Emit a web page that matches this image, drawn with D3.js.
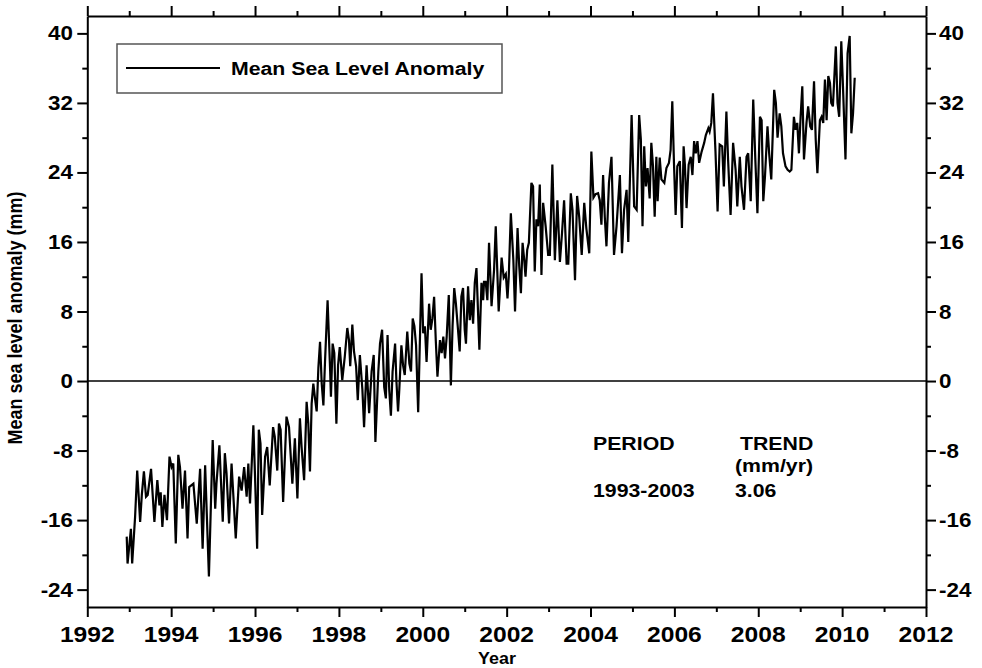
<!DOCTYPE html>
<html>
<head>
<meta charset="utf-8">
<script src="https://cdn.jsdelivr.net/npm/d3@7"></script>
<style>
body { margin: 0; background: #fff; }
text { font-family: "Liberation Sans", Arial, sans-serif; font-weight: bold; fill: #000; }
</style>
</head>
<body>
<script>
var w = 982, h = 668;
var plotLeft = 87.3, plotRight = 926, plotTop = 16, plotBottom = 607;
var stretch = 1.12;	// the picture is a bit wider than its text

// y axis
var yDomain = [-26, 42];
var yTicks = [-24, -16, -8, 0, 8, 16, 24, 32, 40];
var yMinorTicks = [-20, -12, -4, 4, 12, 20, 28, 36];
var yTickLabels = ["-24", "-16", "-8", "0", "8", "16", "24", "32", "40"];

// x axis
var xDomain = [1992, 2012];
var xTicks = [1992, 1994, 1996, 1998, 2000, 2002, 2004, 2006, 2008, 2010, 2012];
var xMinorTicks = [1993, 1995, 1997, 1999, 2001, 2003, 2005, 2007, 2009, 2011];
var xTickLabels = ["1992", "1994", "1996", "1998", "2000", "2002", "2004", "2006", "2008", "2010", "2012"];

var legendLabel = "Mean Sea Level Anomaly";
var xTitle = "Year";
var yTitle = "Mean sea level anomaly (mm)";
var trendHeader = ["PERIOD", "TREND", "(mm/yr)"];
var trendRow = ["1993-2003", "3.06"];

// [year, anomaly in mm]
var mslaPoints = [
	[1992.94, -17.9], [1992.96, -21.0], [1993.04, -17.0], [1993.07, -21.0], [1993.14, -15.6], [1993.19, -10.3],
	[1993.26, -16.2], [1993.30, -13.1], [1993.35, -10.4], [1993.40, -13.3], [1993.44, -13.1], [1993.52, -10.1],
	[1993.60, -16.2], [1993.67, -11.4], [1993.72, -14.3], [1993.75, -12.8], [1993.79, -16.8], [1993.84, -13.1],
	[1993.90, -16.0], [1993.96, -8.7], [1994.01, -9.9], [1994.05, -9.5], [1994.11, -18.7], [1994.17, -8.5],
	[1994.21, -9.9], [1994.27, -14.7], [1994.33, -10.3], [1994.39, -18.1], [1994.43, -12.2], [1994.53, -11.8],
	[1994.61, -16.4], [1994.69, -10.1], [1994.75, -19.3], [1994.81, -9.7], [1994.90, -22.5], [1994.99, -6.8],
	[1995.05, -14.7], [1995.08, -11.8], [1995.15, -7.4], [1995.23, -16.2], [1995.28, -8.3], [1995.32, -10.6],
	[1995.38, -16.4], [1995.44, -9.5], [1995.54, -18.1], [1995.62, -11.0], [1995.68, -12.6], [1995.74, -9.9],
	[1995.80, -13.3], [1995.84, -9.5], [1995.88, -14.1], [1995.96, -5.1], [1996.00, -11.0], [1996.05, -19.3],
	[1996.09, -5.6], [1996.13, -7.2], [1996.17, -15.4], [1996.24, -8.7], [1996.29, -7.6], [1996.35, -12.0],
	[1996.43, -5.3], [1996.47, -6.4], [1996.53, -10.3], [1996.57, -4.9], [1996.61, -5.6], [1996.67, -13.9],
	[1996.75, -4.1], [1996.81, -5.3], [1996.89, -11.8], [1996.95, -6.6], [1997.01, -13.5], [1997.07, -4.3],
	[1997.11, -7.6], [1997.17, -11.4], [1997.23, -2.4], [1997.27, -4.9], [1997.31, -10.4], [1997.35, -2.6],
	[1997.39, -0.3], [1997.43, -2.0], [1997.47, -3.5], [1997.51, 1.5], [1997.55, 4.5], [1997.59, -0.3],
	[1997.63, -2.8], [1997.67, 2.4], [1997.73, 9.3], [1997.79, 1.3], [1997.81, -1.8], [1997.85, 4.3],
	[1997.89, 3.2], [1997.94, -4.9], [1997.98, 1.8], [1998.02, 3.9], [1998.08, 0.1], [1998.14, 2.8],
	[1998.20, 6.1], [1998.24, 4.7], [1998.27, 1.7], [1998.32, 6.5], [1998.36, 3.4], [1998.41, 1.7],
	[1998.45, -2.2], [1998.50, 3.0], [1998.56, -1.0], [1998.60, -5.3], [1998.66, 1.8], [1998.72, -3.7],
	[1998.78, 1.1], [1998.83, 3.0], [1998.87, -7.0], [1998.94, 1.1], [1998.98, 4.3], [1999.03, 5.9],
	[1999.08, -0.7], [1999.12, -2.0], [1999.16, 5.3], [1999.20, -1.0], [1999.24, -4.0], [1999.28, 1.1],
	[1999.34, 4.3], [1999.37, 0.1], [1999.41, -3.5], [1999.44, -1.0], [1999.49, 4.1], [1999.53, 1.8],
	[1999.57, 0.7], [1999.63, 5.7], [1999.68, 2.0], [1999.72, 1.1], [1999.76, 7.2], [1999.80, 6.3],
	[1999.84, 4.1], [1999.89, -3.6], [1999.97, 12.4], [2000.01, 5.5], [2000.05, 6.3], [2000.09, 2.2],
	[2000.15, 8.9], [2000.19, 5.9], [2000.23, 7.2], [2000.27, 9.7], [2000.31, 4.7], [2000.35, 0.5],
	[2000.41, 4.7], [2000.45, 3.2], [2000.49, 5.1], [2000.53, 2.6], [2000.57, 5.1], [2000.62, 9.9],
	[2000.67, -0.5], [2000.71, 6.3], [2000.75, 10.7], [2000.79, 8.9], [2000.84, 5.9], [2000.88, 3.4],
	[2000.92, 9.7], [2000.96, 10.7], [2001.00, 5.9], [2001.03, 4.3], [2001.08, 10.9], [2001.12, 7.0],
	[2001.16, 9.3], [2001.20, 6.6], [2001.24, 11.3], [2001.28, 13.0], [2001.35, 3.6], [2001.40, 11.3],
	[2001.44, 9.3], [2001.46, 11.4], [2001.50, 11.4], [2001.54, 9.3], [2001.58, 15.9], [2001.64, 8.6],
	[2001.70, 12.8], [2001.74, 17.8], [2001.81, 8.0], [2001.88, 14.2], [2001.93, 11.9], [2001.98, 12.3],
	[2002.02, 9.5], [2002.05, 12.0], [2002.10, 19.3], [2002.16, 13.9], [2002.20, 8.0], [2002.26, 17.6],
	[2002.30, 13.2], [2002.34, 10.1], [2002.38, 15.9], [2002.42, 13.9], [2002.45, 12.0], [2002.49, 15.1],
	[2002.53, 15.9], [2002.59, 22.8], [2002.63, 22.4], [2002.67, 12.6], [2002.71, 18.6], [2002.75, 17.8],
	[2002.79, 22.6], [2002.83, 12.2], [2002.87, 20.5], [2002.93, 17.8], [2002.99, 14.5], [2003.03, 14.5],
	[2003.09, 24.9], [2003.15, 13.9], [2003.21, 20.8], [2003.27, 13.7], [2003.32, 17.0], [2003.37, 20.8],
	[2003.43, 13.5], [2003.47, 13.5], [2003.53, 21.6], [2003.57, 19.7], [2003.63, 11.6], [2003.68, 21.3],
	[2003.73, 18.9], [2003.79, 14.5], [2003.85, 20.5], [2003.90, 17.6], [2003.97, 14.7], [2004.02, 26.4],
	[2004.07, 21.1], [2004.12, 21.5], [2004.18, 21.6], [2004.22, 20.8], [2004.26, 18.0], [2004.30, 23.7],
	[2004.34, 18.9], [2004.38, 15.5], [2004.44, 22.8], [2004.50, 25.8], [2004.56, 14.5], [2004.62, 17.8],
	[2004.70, 23.7], [2004.75, 14.7], [2004.80, 19.7], [2004.86, 22.0], [2004.90, 16.0], [2004.98, 30.6],
	[2005.04, 20.1], [2005.10, 19.7], [2005.16, 30.6], [2005.20, 27.8], [2005.24, 17.8], [2005.28, 27.0],
	[2005.32, 22.4], [2005.36, 24.5], [2005.41, 21.0], [2005.45, 27.4], [2005.49, 24.7], [2005.53, 18.9],
	[2005.57, 25.8], [2005.60, 20.7], [2005.65, 25.7], [2005.69, 23.2], [2005.76, 22.8], [2005.81, 24.5],
	[2005.87, 25.1], [2005.91, 26.6], [2005.95, 32.2], [2005.99, 25.1], [2006.03, 19.1], [2006.07, 24.7],
	[2006.13, 25.3], [2006.18, 17.6], [2006.22, 27.0], [2006.25, 24.9], [2006.29, 19.9], [2006.34, 24.9],
	[2006.39, 25.8], [2006.43, 23.7], [2006.47, 27.6], [2006.51, 26.2], [2006.55, 27.6], [2006.59, 25.1],
	[2006.65, 26.4], [2006.71, 27.4], [2006.75, 28.3], [2006.81, 29.1], [2006.84, 28.7], [2006.88, 29.7],
	[2006.92, 33.1], [2006.98, 26.4], [2007.03, 19.5], [2007.08, 27.2], [2007.14, 27.0], [2007.18, 22.4],
	[2007.24, 31.0], [2007.28, 25.5], [2007.34, 19.1], [2007.40, 27.4], [2007.46, 24.3], [2007.50, 20.1],
	[2007.56, 25.8], [2007.60, 22.4], [2007.66, 19.7], [2007.72, 25.8], [2007.76, 26.2], [2007.82, 20.7],
	[2007.88, 32.4], [2007.93, 25.5], [2007.98, 19.3], [2008.04, 30.4], [2008.08, 30.0], [2008.12, 20.7],
	[2008.16, 23.5], [2008.22, 29.3], [2008.26, 26.2], [2008.31, 23.2], [2008.38, 33.5], [2008.42, 32.0],
	[2008.46, 28.0], [2008.51, 30.8], [2008.55, 29.3], [2008.59, 26.2], [2008.65, 24.7], [2008.70, 24.3],
	[2008.75, 24.1], [2008.79, 24.3], [2008.85, 30.4], [2008.89, 28.9], [2008.93, 29.7], [2008.97, 26.2],
	[2009.01, 30.4], [2009.05, 33.9], [2009.09, 25.5], [2009.15, 29.7], [2009.19, 31.6], [2009.24, 29.3],
	[2009.28, 28.9], [2009.33, 34.5], [2009.37, 27.8], [2009.41, 23.9], [2009.47, 30.0], [2009.51, 30.4],
	[2009.55, 29.7], [2009.59, 34.7], [2009.63, 30.0], [2009.67, 35.1], [2009.71, 34.3], [2009.74, 32.0],
	[2009.78, 31.6], [2009.85, 38.5], [2009.89, 32.0], [2009.93, 30.4], [2009.98, 39.1], [2010.02, 33.9],
	[2010.08, 25.5], [2010.13, 37.7], [2010.18, 39.7], [2010.22, 28.5], [2010.26, 30.8], [2010.30, 34.9]
];

var svg, x, y;

function addText(px, py, str, size, anchor) {
	return svg.append("text")
		.attr("transform", "translate(" + px + "," + py + ") scale(" + stretch + ",1)")
		.attr("font-size", size)
		.attr("text-anchor", anchor || "start")
		.text(str);
}

function drawAxes() {
	// major and minor ticks on all four sides, all pointing outwards
	var sides = [
		[d3.axisLeft(y), plotLeft, 0, yTicks, yMinorTicks],
		[d3.axisRight(y), plotRight, 0, yTicks, yMinorTicks],
		[d3.axisBottom(x), 0, plotBottom, xTicks, xMinorTicks],
		[d3.axisTop(x), 0, plotTop, xTicks, xMinorTicks]
	];
	sides.forEach(function(s) {
		var g = svg.append("g").attr("transform", "translate(" + s[1] + "," + s[2] + ")");
		g.call(s[0].tickValues(s[3]).tickSize(10).tickSizeOuter(0).tickFormat(""));
		g.append("g").call(s[0].tickValues(s[4]).tickSize(5).tickSizeOuter(0).tickFormat(""))
			.select(".domain").remove();
		g.selectAll("path, line").attr("stroke", "#000").attr("stroke-width", 2);
	});

	yTicks.forEach(function(t, i) {
		addText(73, y(t) + 7, yTickLabels[i], 20, "end");
		addText(939, y(t) + 7, yTickLabels[i], 20, "start");
	});
	xTicks.forEach(function(t, i) {
		addText(x(t), 642, xTickLabels[i], 22, "middle");
	});

	addText(497, 664, xTitle, 16, "middle");
	svg.append("text")
		.attr("transform", "translate(22,318) scale(" + stretch + ",1) rotate(-90)")
		.attr("font-size", 18)
		.attr("text-anchor", "middle")
		.text(yTitle);
}

function drawSeries() {
	svg.append("line")
		.attr("x1", plotLeft)
		.attr("x2", plotRight)
		.attr("y1", y(0))
		.attr("y2", y(0))
		.attr("stroke", "#000")
		.attr("stroke-width", 1.6);

	var line = d3.line()
		.x(function(d) { return x(d[0]); })
		.y(function(d) { return y(d[1]); });
	svg.append("path")
		.datum(mslaPoints)
		.attr("d", line)
		.attr("fill", "none")
		.attr("stroke", "#000")
		.attr("stroke-width", 2.2);
}

function drawNotes() {
	svg.append("rect")
		.attr("x", 117)
		.attr("y", 44)
		.attr("width", 385)
		.attr("height", 49)
		.attr("fill", "#fff")
		.attr("stroke", "#555")
		.attr("stroke-width", 1.5);
	svg.append("line")
		.attr("x1", 126)
		.attr("x2", 220)
		.attr("y1", 68)
		.attr("y2", 68)
		.attr("stroke", "#000")
		.attr("stroke-width", 2);
	addText(231, 75, legendLabel, 19);

	addText(593, 450, trendHeader[0], 19);
	addText(740, 450, trendHeader[1], 19);
	addText(735, 472, trendHeader[2], 19);
	addText(593, 497, trendRow[0], 19);
	addText(735, 497, trendRow[1], 19);
}

function main() {
	svg = d3.select("body")
		.append("svg")
		.attr("width", w)
		.attr("height", h);
	svg.append("rect")
		.attr("width", w)
		.attr("height", h)
		.attr("fill", "#fff");

	x = d3.scaleLinear().domain(xDomain).range([plotLeft, plotRight]);
	y = d3.scaleLinear().domain(yDomain).range([plotBottom, plotTop]);

	drawSeries();
	drawAxes();
	drawNotes();
}

main();
</script>
</body>
</html>
